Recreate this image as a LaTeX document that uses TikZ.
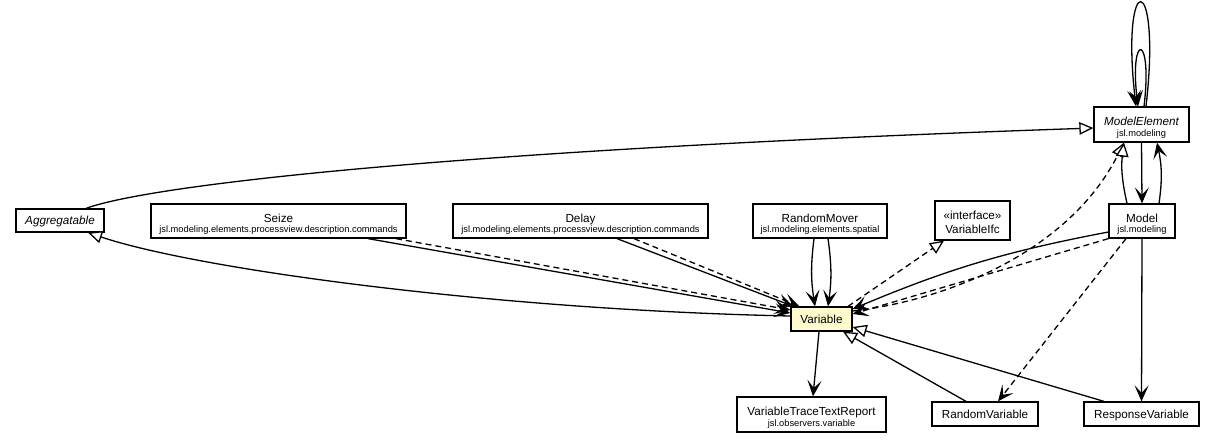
\documentclass[tikz,border=0pt]{standalone}
\usepackage{fontspec}
\setmainfont{Liberation Sans}
\usetikzlibrary{arrows.meta,calc}
\definecolor{varfill}{RGB}{255,250,205}
\begin{document}
\begin{tikzpicture}[x=1pt,y=-1pt,
  box/.style={draw=black,line width=1.25pt,fill=white,inner sep=0pt},
  ttl/.style={font=\fontsize{11.7}{14}\selectfont,inner sep=0pt,anchor=base},
  ttli/.style={font=\fontsize{11.7}{14}\selectfont\itshape,inner sep=0pt,anchor=base},
  pkg/.style={font=\fontsize{9.3}{11}\selectfont,inner sep=0pt,anchor=base},
  edge/.style={line width=1.3pt},
  dsh/.style={dash pattern=on 6pt off 4pt},
  vee/.style={-{Stealth[length=16pt,width=14pt,inset=7.5pt]}},
  tri/.style={-{Triangle[open,length=14pt,width=12.5pt,fill=white]}}]

\useasboundingbox (0,0) rectangle (1215,445);

% nodes
\node[box,minimum width=88pt,minimum height=23pt] (agg) at (60,220.5) {};
\node[ttli] (aggt) at ($(agg.center)+(0,4.2)$) {Aggregatable};

\node[box,minimum width=255pt,minimum height=34pt] (seize) at (278.5,221) {};
\node[ttl] (seizet) at ($(seize.center)+(0,1.2)$) {Seize};
\node[pkg] (seizep) at ($(seize.center)+(0,11.8)$) {jsl.modeling.elements.processview.description.commands};

\node[box,minimum width=255pt,minimum height=34pt] (delay) at (580.5,221) {};
\node[ttl] (delayt) at ($(delay.center)+(0,1.2)$) {Delay};
\node[pkg] (delayp) at ($(delay.center)+(0,11.8)$) {jsl.modeling.elements.processview.description.commands};

\node[box,minimum width=134pt,minimum height=34pt] (rmover) at (820,221) {};
\node[ttl] (rmovert) at ($(rmover.center)+(0,1.2)$) {RandomMover};
\node[pkg] (rmoverp) at ($(rmover.center)+(0,11.8)$) {jsl.modeling.elements.spatial};

\node[box,minimum width=75pt,minimum height=39pt] (vifc) at (972.5,220.5) {};
\node[ttl] (vifcs) at ($(vifc.center)+(0,-1.5)$) {«interface»};
\node[ttl] (vifct) at ($(vifc.center)+(0,13)$) {VariableIfc};

\node[box,minimum width=66pt,minimum height=34pt] (model) at (1142,221) {};
\node[ttl] (modelt) at ($(model.center)+(0,1.2)$) {Model};
\node[pkg] (modelp) at ($(model.center)+(0,11.8)$) {jsl.modeling};

\node[box,minimum width=95pt,minimum height=35pt] (melem) at (1141.5,124.5) {};
\node[ttli] (melemt) at ($(melem.center)+(0,1.2)$) {ModelElement};
\node[pkg] (melemp) at ($(melem.center)+(0,11.8)$) {jsl.modeling};

\node[box,fill=varfill,minimum width=61pt,minimum height=24pt] (var) at (821.5,319) {};
\node[ttl] (vart) at ($(var.center)+(0,4.2)$) {Variable};

\node[box,minimum width=149pt,minimum height=35pt] (vttr) at (811.5,414.5) {};
\node[ttl] (vttrt) at ($(vttr.center)+(0,1.2)$) {VariableTraceTextReport};
\node[pkg] (vttrp) at ($(vttr.center)+(0,11.8)$) {jsl.observers.variable};

\node[box,minimum width=106pt,minimum height=24pt] (rvar) at (985,414) {};
\node[ttl] (rvart) at ($(rvar.center)+(0,4.2)$) {RandomVariable};

\node[box,minimum width=115pt,minimum height=24pt] (resp) at (1141.5,414) {};
\node[ttl] (respt) at ($(resp.center)+(0,4.2)$) {ResponseVariable};

% edges
\draw[edge,tri] ($(agg.north)+(26,0)$) .. controls (150,185) and (450,150) .. ($(melem.west)+(0,3.5)$);
\draw[edge,tri] ($(var.west)+(0,-3)$) .. controls (500,310) and (200,270) .. ($(agg.south)+(28,0)$);

\draw[edge,vee] ($(seize.south)+(89.5,0)$) -- ($(var.west)+(0,-6)$);
\draw[edge,dsh,vee] ($(seize.south)+(117.5,0)$) -- ($(var.west)+(0,-9)$);

\draw[edge,vee] ($(delay.south)+(36.5,0)$) -- ($(var.north west)+(3,0)$);
\draw[edge,dsh,vee] ($(delay.south)+(53.5,0)$) -- ($(var.north west)+(9,0)$);

\draw[edge,vee] ($(rmover.south)+(-6,0)$) to[bend right=8] ($(var.north)+(-6.5,0)$);
\draw[edge,vee] ($(rmover.south)+(8,0)$) to[bend left=8] ($(var.north)+(6.5,0)$);

\draw[edge,dsh,tri] ($(var.north)+(26.5,0)$) -- ($(vifc.south)+(-28.5,0)$);

\draw[edge,vee] ($(model.west)+(0,11)$) to[bend right=6] ($(var.east)+(0,-10)$);
\draw[edge,dsh,vee] (model.south west) -- ($(var.east)+(0,-5)$);
\draw[edge,dsh,tri] ($(var.east)+(0,-8)$) .. controls (950,300) and (1070,250) .. ($(melem.south)+(-17.5,0)$);

\draw[edge,vee] (melem.south) -- (model.north);
\draw[edge,vee] ($(model.north)+(17,0)$) to[bend right=10] ($(melem.south)+(15.5,0)$);
\draw[edge,tri] ($(model.north)+(-15,0)$) to[bend left=10] ($(melem.south)+(-17.5,0)$);

\draw[edge,vee] ($(melem.north)+(4.5,0)$) .. controls (1162,-32) and (1120,-32) .. ($(melem.north)+(-5.5,0)$);
\draw[edge,vee] ($(melem.north)+(2.5,0)$) .. controls (1153,32) and (1129,32) .. ($(melem.north)+(-3.5,0)$);

\draw[edge,vee] ($(var.south)+(-2.5,0)$) -- ($(vttr.north)+(1.5,0)$);
\draw[edge,tri] ($(rvar.north)+(-19,0)$) -- ($(var.south)+(21.5,0)$);
\draw[edge,tri] ($(resp.north)+(-37.5,0)$) -- ($(var.east)+(0,8)$);
\draw[edge,vee] (model.south) -- (resp.north);
\draw[edge,dsh,vee] ($(model.south)+(-16,0)$) -- ($(rvar.north)+(13,0)$);
\end{tikzpicture}
\end{document}
